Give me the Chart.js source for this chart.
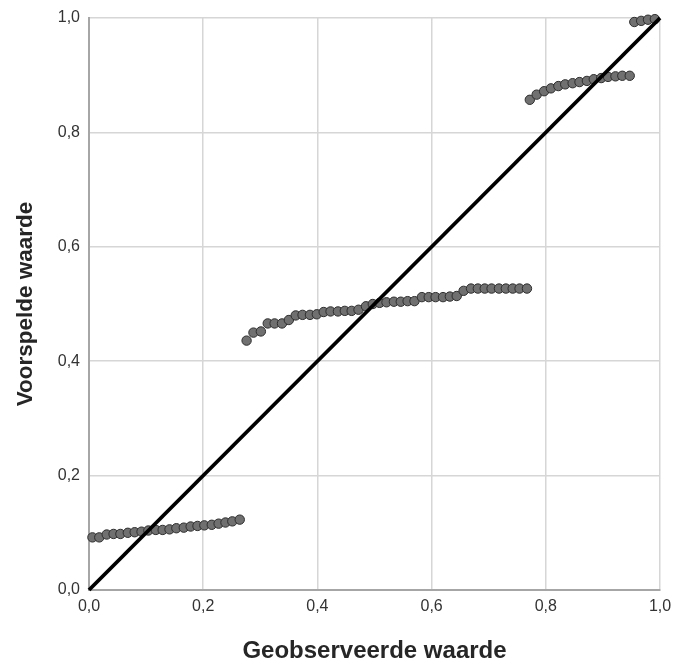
<!DOCTYPE html>
<html>
<head>
<meta charset="utf-8">
<script src="https://cdn.jsdelivr.net/npm/chart.js@4/dist/chart.umd.min.js"></script>
<style>
  html, body { margin: 0; padding: 0; background: #ffffff; }
  #wrap { width: 673px; height: 666px; }
</style>
</head>
<body>
<div id="wrap"><canvas id="c" width="673" height="666"></canvas></div>
<script>
// Observed cumulative probability (x) and predicted cumulative probability (y)
const observed = [
  0.006, 0.018, 0.031, 0.043, 0.055, 0.068, 0.080, 0.092, 0.104, 0.117, 0.129,
  0.141, 0.153, 0.166, 0.178, 0.190, 0.202, 0.215, 0.227, 0.239, 0.251, 0.264,
  0.276, 0.288, 0.301, 0.313, 0.325, 0.338, 0.350, 0.362, 0.374, 0.387, 0.399,
  0.411, 0.423, 0.436, 0.448, 0.460, 0.472, 0.485, 0.497, 0.509, 0.521, 0.534,
  0.546, 0.558, 0.570, 0.583, 0.595, 0.607, 0.620, 0.632, 0.644, 0.656, 0.669,
  0.681, 0.693, 0.705, 0.718, 0.730, 0.742, 0.754, 0.767,
  0.772, 0.784, 0.797, 0.809, 0.822, 0.834, 0.847, 0.859, 0.872, 0.884, 0.897,
  0.909, 0.922, 0.934, 0.947,
  0.955, 0.967, 0.979, 0.991
];
const predicted = [
  0.092, 0.092, 0.097, 0.098, 0.098, 0.100, 0.101, 0.102, 0.104, 0.105, 0.105,
  0.106, 0.108, 0.109, 0.111, 0.112, 0.113, 0.114, 0.116, 0.118, 0.120, 0.123,
  0.436, 0.450, 0.452, 0.466, 0.466, 0.466, 0.472, 0.480, 0.481, 0.481, 0.482,
  0.486, 0.487, 0.487, 0.488, 0.488, 0.490, 0.496, 0.500, 0.502, 0.503, 0.504,
  0.504, 0.505, 0.505, 0.512, 0.512, 0.512, 0.512, 0.513, 0.514, 0.523, 0.527,
  0.527, 0.527, 0.527, 0.527, 0.527, 0.527, 0.527, 0.527,
  0.857, 0.866, 0.872, 0.877, 0.881, 0.884, 0.886, 0.888, 0.890, 0.893, 0.895,
  0.897, 0.898, 0.899, 0.899,
  0.993, 0.995, 0.997, 0.998
];
// Reference diagonal (expected = observed)
const diagonalX = [0, 1];
const diagonalY = [0, 1];
const tickValues = [0, 0.2, 0.4, 0.6, 0.8, 1.0];
const xTitle = 'Geobserveerde waarde';
const yTitle = 'Voorspelde waarde';

const fmt = v => Number(v).toFixed(1).replace('.', ',');
const FONT = 'Liberation Sans, Arial, sans-serif';

new Chart(document.getElementById('c'), {
  type: 'scatter',
  data: {
    datasets: [
      {
        type: 'line',
        data: diagonalX.map((x, i) => ({ x, y: diagonalY[i] })),
        borderColor: '#000000',
        borderWidth: 3.8,
        pointRadius: 0,
        fill: false,
        clip: false,
        order: 0
      },
      {
        data: observed.map((x, i) => ({ x, y: predicted[i] })),
        backgroundColor: '#707070',
        borderColor: '#2e2e2e',
        borderWidth: 1,
        pointRadius: 4.7,
        clip: false,
        order: 1
      }
    ]
  },
  options: {
    responsive: false,
    animation: false,
    events: [],
    layout: { padding: { left: 0, right: 13, top: 18, bottom: 0 } },
    plugins: { legend: { display: false }, tooltip: { enabled: false } },
    scales: {
      x: {
        type: 'linear',
        min: 0, max: 1,
        afterFit: s => { s.height = 76; s.paddingLeft = 0; s.paddingRight = 0; },
        afterBuildTicks: s => { s.ticks = tickValues.map(v => ({ value: v })); },
        ticks: {
          callback: v => fmt(v),
          color: '#333333',
          font: { family: FONT, size: 16 },
          padding: 7,
          maxRotation: 0
        },
        grid: { color: '#d6d6d6', lineWidth: 1.5, drawTicks: false },
        border: { color: '#a6a6a6', width: 2 },
        title: {
          display: true, text: xTitle, color: '#262626',
          font: { family: FONT, size: 24, weight: 'bold' },
          padding: { top: 0, bottom: 0 }
        }
      },
      y: {
        type: 'linear',
        min: 0, max: 1,
        afterFit: s => { s.width = 89; s.paddingTop = 0; s.paddingBottom = 0; },
        afterBuildTicks: s => { s.ticks = tickValues.map(v => ({ value: v })); },
        ticks: {
          callback: v => fmt(v),
          color: '#333333',
          font: { family: FONT, size: 16 },
          padding: 9
        },
        grid: { color: '#d6d6d6', lineWidth: 1.5, drawTicks: false },
        border: { color: '#a6a6a6', width: 2 },
        title: {
          display: true, text: yTitle, color: '#262626',
          font: { family: FONT, size: 22.5, weight: 'bold' },
          padding: { top: 12, bottom: 0 }
        }
      }
    }
  }
});
</script>
</body>
</html>
